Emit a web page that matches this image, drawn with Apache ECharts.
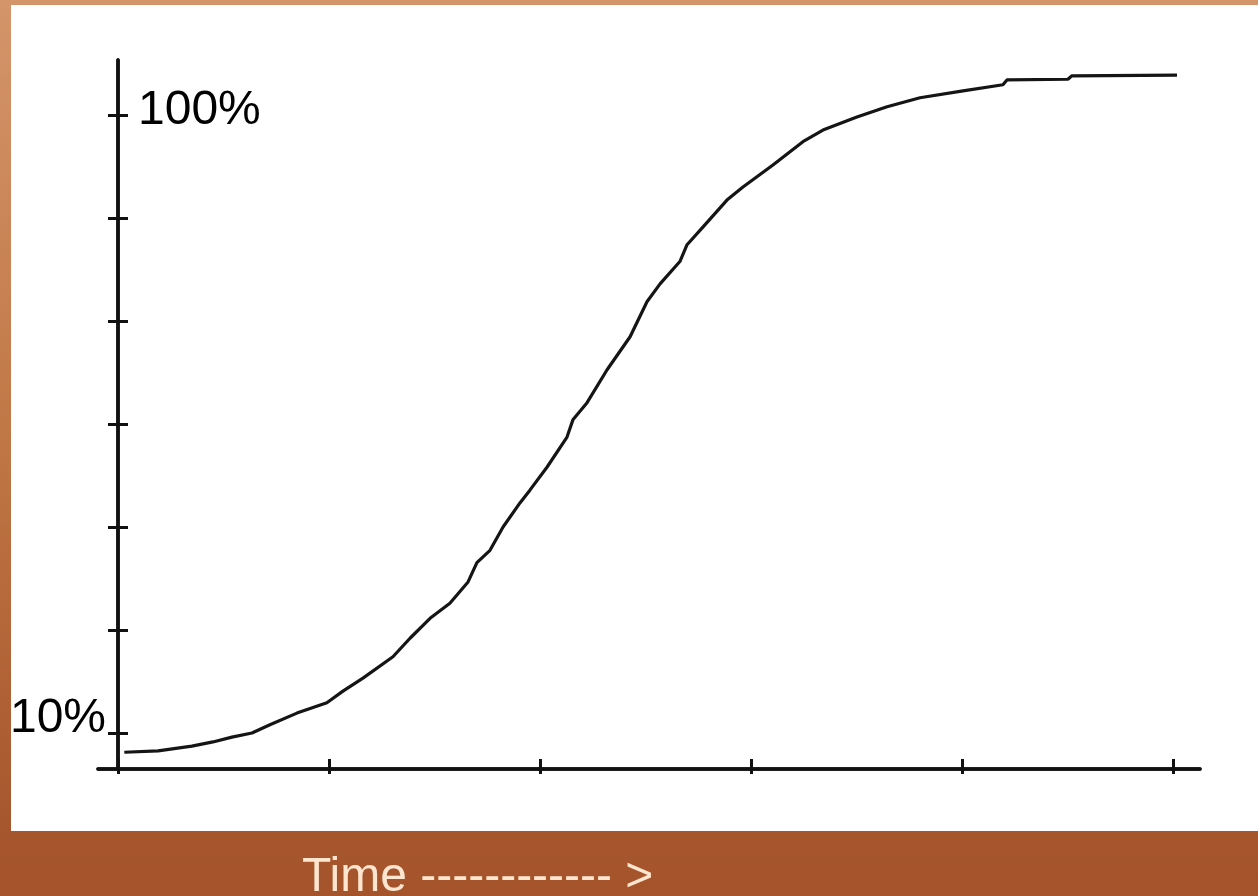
<!DOCTYPE html>
<html>
<head>
<meta charset="utf-8">
<script src="https://cdn.jsdelivr.net/npm/echarts@6/dist/echarts.min.js"></script>
<style>
html,body{margin:0;padding:0;}
#chart{width:1258px;height:896px;}
</style>
</head>
<body>
<div id="chart"></div>
<script>
// Time positions (x-axis tick units) and percent values of the S-curve
const timeValues = [0.03, 0.19, 0.35, 0.45, 0.54, 0.635, 0.72, 0.848, 0.99, 1.066, 1.161, 1.303, 1.384, 1.479, 1.573, 1.659, 1.701, 1.763, 1.825, 1.905, 1.953, 2.033, 2.128, 2.156, 2.223, 2.318, 2.427, 2.507, 2.569, 2.664, 2.697, 2.773, 2.886, 2.962, 3.104, 3.246, 3.341, 3.502, 3.645, 3.801, 4.005, 4.194, 4.213, 4.502, 4.521, 5.019];
const percentValues = [7.2, 7.4, 8.1, 8.7, 9.4, 10.0, 11.2, 12.9, 14.4, 16.1, 18.0, 21.1, 23.8, 26.7, 28.9, 32.0, 34.8, 36.6, 40.0, 43.5, 45.4, 48.7, 53.1, 55.6, 58.1, 62.9, 67.7, 72.8, 75.4, 78.7, 81.1, 83.7, 87.6, 89.5, 92.7, 96.1, 97.8, 99.7, 101.2, 102.5, 103.5, 104.4, 105.1, 105.2, 105.7, 105.8];
const xTicks = [0, 1, 2, 3, 4, 5];
const yTicks = [10, 25, 40, 55, 70, 85, 100];
const yLabelLow = [10];
const yLabelHigh = [100];
const axisTitle = 'Time ------------ >';

const curve = timeValues.map((t, i) => [t, percentValues[i]]);

const chart = echarts.init(document.getElementById('chart'));
const axisColor = '#111';
const font = '"Liberation Sans", Arial, sans-serif';
const xMin = -0.0948, xMax = 5.128, yMin = 4.76, yMax = 108.0;

function xAx(inside, len) {
  return {
    type: 'value', position: 'bottom', min: xMin, max: xMax,
    axisLine: { show: true, lineStyle: { color: axisColor, width: 3.5 } },
    axisTick: { show: true, inside: inside, length: len, customValues: xTicks, lineStyle: { color: axisColor, width: 3 } },
    axisLabel: { show: false },
    splitLine: { show: false }
  };
}

chart.setOption({
  backgroundColor: new echarts.graphic.LinearGradient(0, 0, 0, 1, [
    { offset: 0, color: '#D4956A' },
    { offset: 0.5, color: '#C07645' },
    { offset: 0.92, color: '#A7572D' },
    { offset: 1, color: '#A4532A' }
  ]),
  animation: false,
  title: {
    text: axisTitle,
    left: 297, top: 849,
    textStyle: { color: '#FDE5CF', fontSize: 48, fontWeight: 'normal', fontFamily: font }
  },
  graphic: [{
    type: 'rect', z: -10, silent: true,
    shape: { x: 11, y: 5, width: 1247, height: 826 },
    style: { fill: '#ffffff' }
  }],
  grid: { left: 98, right: 58, top: 60, bottom: 127, containLabel: false, outerBoundsMode: 'none' },
  xAxis: [xAx(true, 10), xAx(false, 5)],
  yAxis: [
    {
      type: 'value', position: 'left', min: yMin, max: yMax,
      axisLine: { show: true, onZero: true, onZeroAxisIndex: 0, lineStyle: { color: axisColor, width: 3.5 } },
      axisTick: { show: true, inside: false, length: 10, customValues: yTicks, lineStyle: { color: axisColor, width: 3 } },
      axisLabel: {
        show: true, customValues: yLabelLow, formatter: '{value}%', margin: -8,
        color: '#000', fontSize: 48, fontFamily: font, verticalAlign: 'bottom', lineHeight: 28
      },
      splitLine: { show: false }
    },
    {
      type: 'value', position: 'left', min: yMin, max: yMax,
      axisLine: { show: true, onZero: true, onZeroAxisIndex: 0, lineStyle: { color: axisColor, width: 3.5 } },
      axisTick: { show: true, inside: true, length: 10, customValues: yTicks, lineStyle: { color: axisColor, width: 3 } },
      axisLabel: {
        show: true, inside: true, customValues: yLabelHigh, formatter: '{value}%', margin: 40,
        color: '#000', fontSize: 48, fontFamily: font, verticalAlign: 'bottom', lineHeight: 8
      },
      splitLine: { show: false }
    }
  ],
  series: [{
    type: 'line',
    data: curve,
    xAxisIndex: 0, yAxisIndex: 0,
    showSymbol: false,
    lineStyle: { color: '#151515', width: 3.2 },
    z: 3
  }]
});
</script>
</body>
</html>
